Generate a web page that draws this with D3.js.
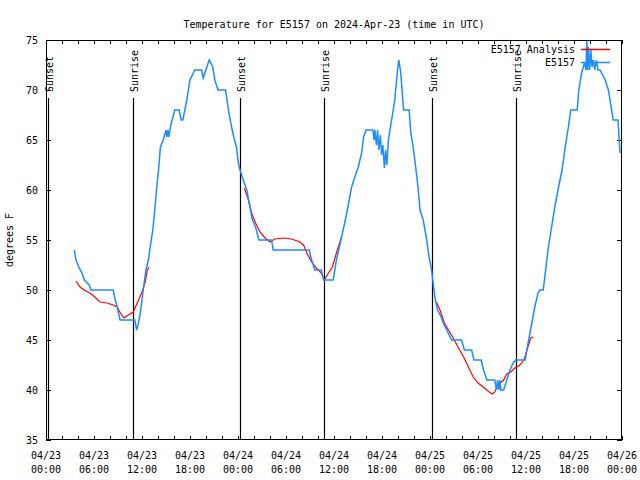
<!DOCTYPE html>
<html><head><meta charset="utf-8">
<script src="https://cdn.jsdelivr.net/npm/d3@7"></script>
<style>
body{margin:0;background:#fff}
svg text{font-family:"DejaVu Sans Mono",monospace;font-size:10px;fill:#000}
</style>
</head><body>
<svg id="c" width="640" height="480"></svg>
<script>
// ---- data ----
const chartTitle = "Temperature for E5157 on 2024-Apr-23 (time in UTC)";
const yAxisTitle = "degrees F";
const startUTC = Date.UTC(2024, 3, 23, 0, 0);
const endUTC = Date.UTC(2024, 3, 26, 0, 0);
const yTickValues = [35, 40, 45, 50, 55, 60, 65, 70, 75];
const seriesNames = ["E5157 Analysis", "E5157"];
// hours after 2024-04-23 00:00 UTC
const sunHours = [0.3, 10.85, 24.3, 34.8, 48.3, 58.8];
const sunLabels = ["Sunset", "Sunrise", "Sunset", "Sunrise", "Sunset", "Sunrise"];
// observation series [hour, degF]
const obsData = [[3.54,54],[3.75,53],[4.15,52.2],[4.45,51.8],[4.8,51],[5.4,50.5],[5.6,50],[8.4,50],[8.6,49.2],[8.9,48.3],[9.25,47],[11.1,47],[11.33,46],[11.5,46.5],[11.75,47.5],[11.95,48.7],[12.2,50.3],[12.5,52],[12.8,53],[13.1,54.7],[13.35,56],[13.6,58],[13.85,60.3],[14.1,62.3],[14.3,64.3],[14.65,65],[15.0,66],[15.1,65.3],[15.25,66],[15.35,65.3],[15.6,66.5],[16.1,68],[16.65,68],[16.9,67],[17.1,67],[17.6,69],[18.0,71],[18.6,72],[19.45,72],[19.65,71.2],[20.1,72.3],[20.4,73],[20.85,72.3],[21.1,71],[21.5,70],[22.45,70],[22.8,68],[23.2,66.3],[23.5,65.2],[23.8,64.3],[24.05,62.7],[24.25,62],[24.65,61],[25.1,60],[25.5,58.3],[25.8,57],[26.2,56.3],[26.6,55],[28.2,55],[28.4,54],[32.9,54],[33.2,53],[33.6,52],[34.4,52],[34.7,51],[35.9,51],[36.3,53],[36.95,55.3],[37.6,57.7],[38.2,60.3],[38.6,61.3],[39.0,62.2],[39.45,63.7],[39.7,65.3],[40.0,66],[40.85,66],[41.0,65],[41.1,66],[41.3,64.5],[41.45,66],[41.6,64],[41.8,65.5],[41.95,63.5],[42.1,64.5],[42.3,62.2],[42.45,64],[42.6,62.5],[42.8,65],[43.2,67],[43.6,69],[43.9,71.7],[44.1,73],[44.35,71.7],[44.6,69],[44.7,68],[45.4,68],[45.6,65.7],[45.9,64.3],[46.3,61.7],[46.5,60.3],[46.75,58],[47.15,57],[47.6,55],[47.8,53.7],[48.2,52],[48.3,51.3],[48.6,49.3],[48.95,48],[49.4,47.3],[49.65,46.7],[50.1,46],[50.7,45],[51.95,45],[52.3,44],[53.2,44],[53.5,43],[54.4,43],[54.7,42],[55.1,41],[56.1,41],[56.3,40],[56.45,41],[56.6,40],[56.75,41],[56.85,40],[57.2,40],[57.6,41],[58.0,42],[58.4,42.7],[58.7,43],[59.9,43],[60.1,44],[60.5,45.7],[60.8,47],[61.1,48.3],[61.5,49.7],[61.75,50],[62.15,50],[62.5,52.3],[62.8,54.3],[63.2,56.3],[63.6,58.3],[64.0,60],[64.5,62],[64.9,64.3],[65.3,66.3],[65.6,68],[66.4,68],[66.6,70],[66.95,71.7],[67.3,72.7],[67.5,72],[67.6,75],[67.7,72],[67.8,74.3],[67.95,72],[68.1,74],[68.25,72.3],[68.4,73],[68.6,72],[68.8,73],[69.0,72],[69.25,72],[69.9,71],[70.3,70],[70.7,68],[70.9,67],[71.5,67],[71.6,65.7],[71.75,63.7]];
// analysis series, three separate runs
const anaRun1 = [[3.75,50.9],[4.25,50.3],[4.75,50],[5.5,49.7],[6.1,49.3],[6.75,48.8],[7.6,48.7],[8.4,48.5],[8.9,48.3],[9.3,47.7],[9.75,47.2],[10.3,47.5],[10.9,47.8],[11.4,48.7],[11.96,49.7],[12.4,50.8],[12.66,52],[12.9,52.3]];
const anaRun2 = [[24.8,60.2],[25.3,59],[25.7,57.7],[26.2,56.7],[26.75,55.8],[27.4,55.2],[28.0,54.8],[28.6,55.1],[29.7,55.2],[30.7,55.1],[31.75,54.8],[32.2,54.5],[32.6,53.7],[33.2,52.8],[33.8,52.2],[34.4,51.7],[34.8,51],[35.3,51.7],[35.8,52.3],[36.3,53.7],[36.9,55.2]];
const anaRun3 = [[48.8,48.8],[49.25,48],[49.8,46.7],[50.3,46],[50.9,45.2],[51.5,44.3],[52.2,43.3],[52.8,42.3],[53.4,41.3],[54.0,40.7],[54.8,40.2],[55.4,39.8],[55.8,39.6],[56.1,39.8],[56.5,40.5],[57.2,41],[57.6,41.6],[58.1,41.8],[58.6,42.2],[59.25,42.5],[59.8,43.1],[60.2,44.2],[60.6,45.2],[60.9,45.3]];

// ---- chart ----
const svg = d3.select("#c");
const L = 46, R = 622, T = 40, B = 440;
const toDate = h => new Date(startUTC + h * 3600e3);
const x = d3.scaleUtc().domain([new Date(startUTC), new Date(endUTC)]).range([L, R]);
const y = d3.scaleLinear().domain([35, 75]).range([B, T]);
const blue = "#1c8cff", red = "#ff0000";

svg.append("rect").attr("width", 640).attr("height", 480).attr("fill", "#fff");

// title
svg.append("text").attr("x", 334).attr("y", 28).attr("text-anchor", "middle").text(chartTitle);
svg.append("text").attr("transform", "translate(13,240) rotate(-90)").attr("text-anchor", "middle").text(yAxisTitle);

// x axis ticks (every 2h, inward), labels every 6h
const xTicks = d3.utcHour.every(2).range(new Date(startUTC), new Date(endUTC + 1));
const fmtD = d3.utcFormat("%m/%d"), fmtT = d3.utcFormat("%H:%M");
const gxb = svg.append("g").attr("transform", `translate(0,${B})`)
  .call(d3.axisBottom(x).tickValues(xTicks).tickSizeInner(-4).tickSizeOuter(0).tickFormat(""));
const gxt = svg.append("g").attr("transform", `translate(0,${T})`)
  .call(d3.axisTop(x).tickValues(xTicks).tickSizeInner(-4).tickSizeOuter(0).tickFormat(""));
[gxb, gxt].forEach(g => { g.select(".domain").remove(); g.selectAll("line").attr("stroke", "#000").attr("shape-rendering", "crispEdges"); });
const labelTicks = xTicks.filter(d => d.getUTCHours() % 6 === 0);
const xl = svg.append("g").selectAll("text").data(labelTicks).join("text")
  .attr("text-anchor", "middle");
xl.append("tspan").attr("x", d => x(d)).attr("y", 459).text(d => fmtD(d));
xl.append("tspan").attr("x", d => x(d)).attr("y", 473).text(d => fmtT(d));

// y axis
const gyl = svg.append("g").attr("transform", `translate(${L},0)`)
  .call(d3.axisLeft(y).tickValues(yTickValues).tickSizeInner(-5).tickSizeOuter(0).tickPadding(8).tickFormat(d3.format("d")));
const gyr = svg.append("g").attr("transform", `translate(${R},0)`)
  .call(d3.axisRight(y).tickValues(yTickValues).tickSizeInner(-5).tickSizeOuter(0).tickFormat(""));
[gyl, gyr].forEach(g => { g.select(".domain").remove(); g.selectAll("line").attr("stroke", "#000").attr("shape-rendering", "crispEdges"); });
gyl.selectAll("text").attr("font-family", null).attr("font-size", null).attr("fill", "#000");

// sunrise / sunset markers
const sun = svg.append("g");
sunHours.forEach((h, i) => {
  const sx = Math.round(x(toDate(h))) + 0.5;
  sun.append("line").attr("x1", sx).attr("x2", sx).attr("y1", 98).attr("y2", B)
    .attr("stroke", "#000").attr("stroke-width", 1.2);
  sun.append("text").attr("transform", `translate(${sx + 4},92) rotate(-90)`)
    .attr("text-anchor", "start").text(sunLabels[i]);
});

// lines
const line = d3.line().x(d => x(toDate(d[0]))).y(d => y(d[1]));
const plot = svg.append("g");
[anaRun1, anaRun2, anaRun3].forEach(run => {
  plot.append("path").attr("d", line(run)).attr("fill", "none").attr("stroke", red).attr("stroke-width", 1.2);
});
plot.append("path").attr("d", line(obsData)).attr("fill", "none").attr("stroke", blue).attr("stroke-width", 1.5);

// border
svg.append("rect").attr("x", L + 0.5).attr("y", T + 0.5).attr("width", R - L - 1).attr("height", B - T - 1)
  .attr("fill", "none").attr("stroke", "#000").attr("shape-rendering", "crispEdges");

// legend
const leg = svg.append("g");
[red, blue].forEach((c, i) => {
  const ly = 49.5 + i * 13;
  leg.append("text").attr("x", 575).attr("y", ly + 3.5).attr("text-anchor", "end").text(seriesNames[i]);
  leg.append("line").attr("x1", 581).attr("x2", 610).attr("y1", ly).attr("y2", ly)
    .attr("stroke", c).attr("stroke-width", 1.5);
});
</script>
</body></html>
